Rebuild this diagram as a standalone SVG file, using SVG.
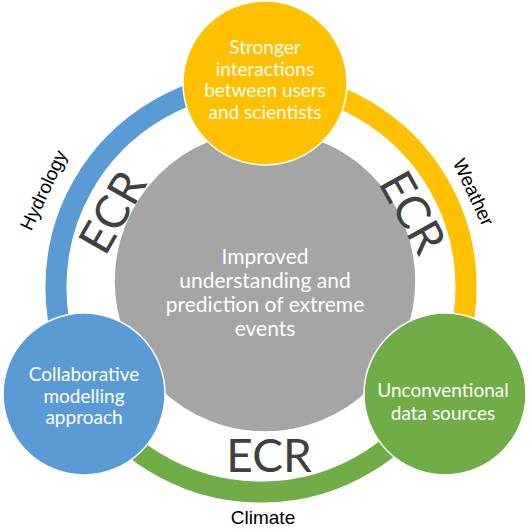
<svg xmlns="http://www.w3.org/2000/svg" width="529" height="529" viewBox="0 0 529 529">
<style>
.ring{fill:none;stroke-width:21}
.node{stroke:#ffffff;stroke-width:1.5}
.nt{font-family:Lato,"Open Sans",sans-serif;font-size:19px;fill:#ffffff;text-anchor:middle}
.ct{font-family:Lato,"Open Sans",sans-serif;font-size:21px;fill:#ffffff;text-anchor:middle}
.ecr{font-family:Lato,"Open Sans",sans-serif;font-size:46px;fill:#404040;text-anchor:middle}
.lab{font-family:"Liberation Sans",Arial,sans-serif;font-size:19px;fill:#000000;text-anchor:middle}
</style>
<rect width="529" height="529" fill="#ffffff"/>
<g id="connectors">
<path class="ring" stroke="#5B9BD5" d="M85.6,393.2 A205,205 0 0 1 261,82"/>
<path class="ring" stroke="#FFC000" d="M261,82 A205,205 0 0 1 438.2,390.1"/>
<path class="ring" stroke="#70AD47" d="M438.2,390.1 A205,205 0 0 1 85.6,393.2"/>
</g>
<g id="labels">
<text class="lab" transform="translate(43,190) rotate(-65)" y="7">Hydrology</text>
<text class="lab" transform="translate(474,192) rotate(65)" y="7">Weather</text>
<text class="lab" x="263" y="524">Climate</text>
</g>
<g id="center">
<circle class="node" cx="265" cy="281" r="151" fill="#A5A5A5"/>
<text class="ct" x="265" y="264">Improved</text>
<text class="ct" x="265" y="288">understanding and</text>
<text class="ct" x="265" y="312">prediction of extreme</text>
<text class="ct" x="265" y="336">events</text>
</g>
<g id="ecr-labels">
<text class="ecr" transform="translate(112,212) rotate(-60)" y="16.5">ECR</text>
<text class="ecr" transform="translate(413,212) rotate(61)" y="16.5">ECR</text>
<text class="ecr" x="269" y="472">ECR</text>
</g>
<g id="node-top">
<circle class="node" cx="265" cy="83" r="82" fill="#FFC000"/>
<text class="nt" x="265" y="54">Stronger</text>
<text class="nt" x="265" y="75.5">interactions</text>
<text class="nt" x="265" y="97">between users</text>
<text class="nt" x="265" y="118.5">and scientists</text>
</g>
<g id="node-left">
<circle class="node" cx="84" cy="394" r="81" fill="#5B9BD5"/>
<text class="nt" x="84" y="381">Collaborative</text>
<text class="nt" x="84" y="402.5">modelling</text>
<text class="nt" x="84" y="424">approach</text>
</g>
<g id="node-right">
<circle class="node" cx="445" cy="394" r="81" fill="#70AD47"/>
<text class="nt" x="443" y="397">Unconventional</text>
<text class="nt" x="443" y="420">data sources</text>
</g>
</svg>
